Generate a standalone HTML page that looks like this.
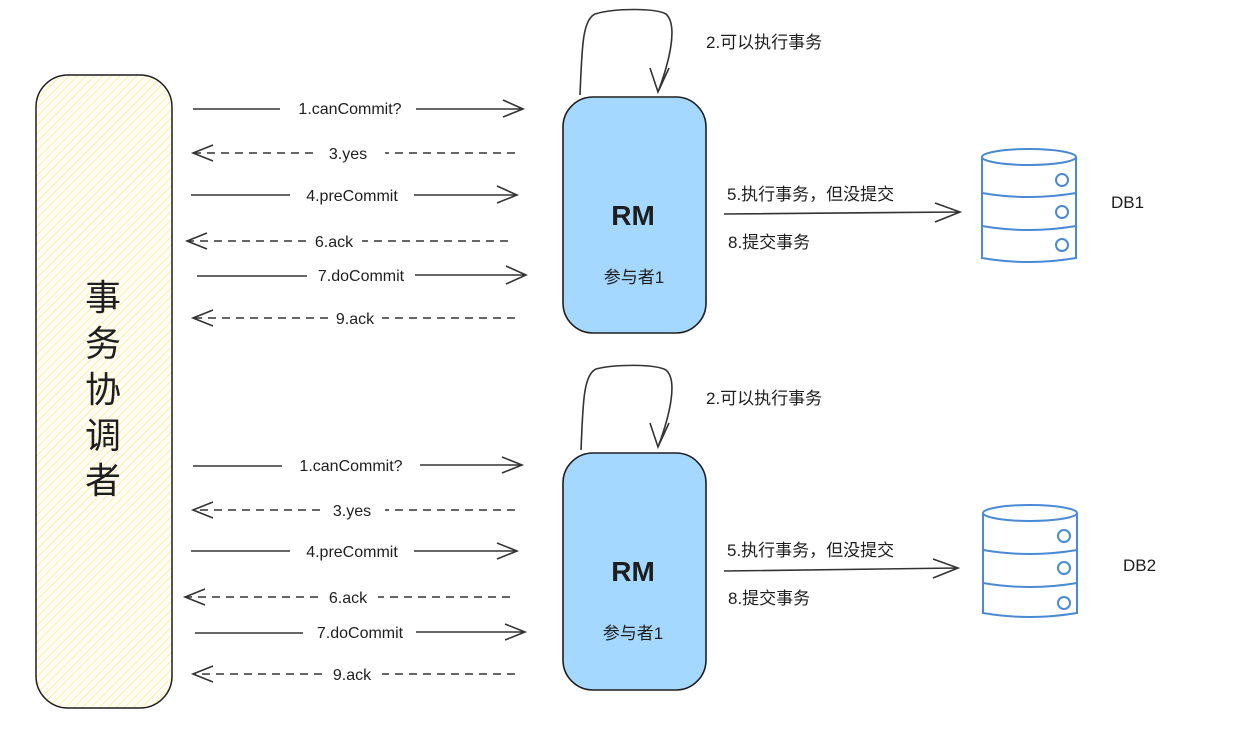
<!DOCTYPE html>
<html><head><meta charset="utf-8"><style>
html,body{margin:0;padding:0;background:#fff;}
svg{display:block}
text{font-family:"Liberation Sans","Noto Sans CJK SC",sans-serif;fill:#1e1e1e}
</style></head><body>
<svg width="1233" height="734" viewBox="0 0 1233 734" xmlns="http://www.w3.org/2000/svg">
<defs>
<pattern id="h" width="6" height="6" patternUnits="userSpaceOnUse" patternTransform="rotate(45)">
<rect width="6" height="6" fill="#fffdf3"/><line x1="0" y1="0" x2="0" y2="6" stroke="#fbeeb0" stroke-width="2"/>
</pattern>
</defs>
<rect x="36" y="75" width="136" height="633" rx="32" fill="url(#h)" stroke="#1e1e1e" stroke-width="1.5"/>
<g font-size="36" text-anchor="middle">
<text x="103" y="310">事</text><text x="103" y="356">务</text><text x="103" y="402">协</text><text x="103" y="448">调</text><text x="103" y="493">者</text>
</g>

<g stroke="#333" stroke-width="1.6" fill="none">
<path d="M193 109H280M416 109H523M503 100L523 109L503 117"/>
<path d="M515 153H385M313 153H193" stroke-dasharray="8 6"/><path d="M213 145L193 153L213 161"/>
<path d="M191 195H290M414 195H517M497 186L517 195L497 203"/>
<path d="M508 241H362M306 241H187" stroke-dasharray="8 6"/><path d="M207 233L187 241L207 249"/>
<path d="M197 276H307M415 275H526M506 266L526 275L506 284"/>
<path d="M515 318H382M328 318H193" stroke-dasharray="8 6"/><path d="M213 310L193 318L213 326"/>
<path d="M193 466H282M420 465H522M502 457L522 465L502 473"/>
<path d="M515 510H385M320 510H193" stroke-dasharray="8 6"/><path d="M213 502L193 510L213 518"/>
<path d="M191 551H290M414 551H517M497 543L517 551L497 559"/>
<path d="M510 597H378M318 597H185" stroke-dasharray="8 6"/><path d="M205 589L185 597L205 605"/>
<path d="M195 633H303M416 632H525M505 624L525 632L505 640"/>
<path d="M515 674H382M322 674H193" stroke-dasharray="8 6"/><path d="M213 666L193 674L213 682"/>
<path d="M580 95C582 50 582 20 595 14C615 8 655 8 666 14C678 25 670 60 658 92M650 68L658 92L669 68"/>
<path d="M581 450C583 405 583 375 596 369C616 364 655 364 666 370C678 380 670 415 658 447M650 423L658 447L669 423"/>
<path d="M724 214L960 212M935 203L960 212L935 222"/>
<path d="M724 571L958 568M933 559L958 568L933 578"/>
</g>
<g font-size="16" text-anchor="middle">
<text x="350" y="114">1.canCommit?</text><text x="348" y="159">3.yes</text>
<text x="352" y="201">4.preCommit</text><text x="334" y="247">6.ack</text>
<text x="361" y="281">7.doCommit</text><text x="355" y="324">9.ack</text>
<text x="351" y="471">1.canCommit?</text><text x="352" y="516">3.yes</text>
<text x="352" y="557">4.preCommit</text><text x="348" y="603">6.ack</text>
<text x="360" y="638">7.doCommit</text><text x="352" y="680">9.ack</text>
</g>

<rect x="563" y="97" width="143" height="236" rx="30" fill="#a5d8ff" stroke="#1e1e1e" stroke-width="1.6"/>
<rect x="563" y="453" width="143" height="237" rx="30" fill="#a5d8ff" stroke="#1e1e1e" stroke-width="1.6"/>
<g text-anchor="middle">
<text x="633" y="225" font-size="28" font-weight="bold">RM</text>
<text x="634" y="283" font-size="17">参与者1</text>
<text x="633" y="581" font-size="28" font-weight="bold">RM</text>
<text x="633" y="639" font-size="17">参与者1</text>
</g>
<g font-size="17">
<text x="706" y="48">2.可以执行事务</text>
<text x="706" y="404">2.可以执行事务</text>
<text x="727" y="200">5.执行事务，但没提交</text>
<text x="728" y="248">8.提交事务</text>
<text x="727" y="556">5.执行事务，但没提交</text>
<text x="728" y="604">8.提交事务</text>
<text x="1111" y="208">DB1</text>
<text x="1123" y="571">DB2</text>
</g>

<g stroke="#4a8ad4" stroke-width="2" fill="none">
<ellipse cx="1029" cy="157" rx="47" ry="8"/>
<path d="M982 157V258Q1029 266 1076 258V157"/>
<path d="M982 193Q1029 201 1076 193M982 226Q1029 234 1076 226"/>
<circle cx="1062" cy="180" r="6"/><circle cx="1062" cy="212" r="6"/><circle cx="1062" cy="245" r="6"/>
<ellipse cx="1030" cy="513" rx="47" ry="8"/>
<path d="M983 513V613Q1030 621 1077 613V513"/>
<path d="M983 550Q1030 558 1077 550M983 583Q1030 591 1077 583"/>
<circle cx="1064" cy="536" r="6"/><circle cx="1064" cy="568" r="6"/><circle cx="1064" cy="603" r="6"/>
</g>
</svg>
</body></html>
